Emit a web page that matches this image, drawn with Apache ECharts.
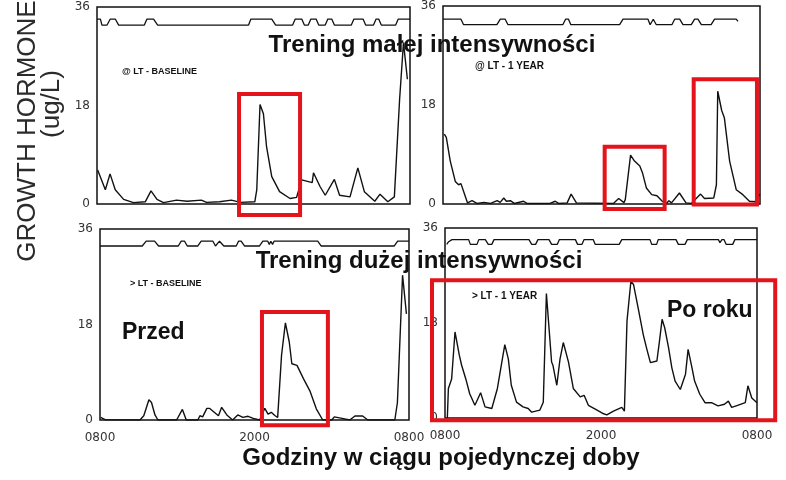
<!DOCTYPE html>
<html>
<head>
<meta charset="utf-8">
<script src="https://cdn.jsdelivr.net/npm/echarts@6/dist/echarts.min.js"></script>
<style>
  html, body { margin: 0; padding: 0; background: #fff; }
  #chart { width: 786px; height: 480px; }
</style>
</head>
<body>
<div id="chart"></div>
<script>
// godziny liczone od 08:00 (0 .. 24)
const xTickLabels = ['0800', '2000', '0800'];
const yTicks = [0, 18, 36];

// GH (ug/L) - lewy gorny: @ LT - BASELINE
const tlGH = [[0.05, 6.2], [0.64, 2.6], [1.0, 5.5], [1.4, 2.6], [2.04, 0.85], [2.8, 0.25], [3.7, 0.4], [4.14, 2.4],
  [4.6, 0.85], [5.1, 0.25], [6.1, 0.7], [6.9, 0.5], [8.0, 0.7], [8.4, 0.3], [9.4, 0.4], [10.3, 0.7], [11.0, 0.3],
  [12.1, 0.4], [12.25, 2.6], [12.5, 18.2], [12.76, 16.5], [13.0, 10.5], [13.4, 5], [14.0, 2.25], [14.8, 1.0],
  [15.3, 1.2], [15.7, 4.4], [16.5, 3.9], [16.6, 5.7], [17.1, 3.2], [17.5, 1.6], [18.2, 4.5], [18.6, 1.6], [19.4, 1.3],
  [20.0, 6.6], [20.5, 2.25], [21.3, 0.5], [21.7, 1.8], [22.3, 0.4], [22.8, 1.3], [23.2, 19], [23.5, 29.5], [23.8, 22.8]];
// prawy gorny: @ LT - 1 YEAR
const trGH = [[0.1, 12.7], [0.25, 12.1], [0.55, 7.8], [0.93, 4.1], [1.18, 3.5], [1.36, 3.7], [1.6, 2.0], [1.86, 0.2],
  [2.2, 0.6], [2.57, 0.1], [3.1, 0.3], [3.6, 0.1], [4.1, 0.6], [4.33, 0.3], [4.6, 1.1], [4.8, 0.5], [5.1, 0.6],
  [5.4, 0.1], [6.1, 0.5], [6.35, 0.1], [8.1, 0.1], [8.5, 0.5], [8.75, 0.1], [9.4, 0.2], [9.7, 1.8], [10.1, 0.2],
  [12.9, 0.1], [13.3, 1.0], [13.7, 0.25], [13.8, 0.8], [14.2, 8.9], [14.5, 7.8], [14.9, 6.9], [15.1, 5.7], [15.4, 2.9],
  [15.8, 1.7], [16.2, 1.5], [16.6, 0.5], [16.9, 0.06], [17.1, 0.6], [17.3, 0.2], [17.9, 2.0], [18.4, 0.2], [18.8, 0.1],
  [19.5, 1.8], [19.8, 1.0], [20.5, 1.1], [20.7, 3.5], [20.8, 20.5], [21.1, 17], [21.3, 15.7], [21.7, 7.8], [22.2, 2.6],
  [22.7, 1.7], [23.2, 0.5], [23.6, 0.4], [24.0, 1.8]];
// lewy dolny: > LT - BASELINE
const blGH = [[0.05, 0.5], [0.4, 0.06], [3.1, 0], [3.4, 0.8], [3.8, 3.8], [4.0, 3.3], [4.27, 0.95], [4.5, 0],
  [5.95, 0], [6.4, 2.0], [6.7, 0], [7.6, 0], [7.76, 0.8], [7.97, 0.6], [8.3, 2.2], [8.5, 2.2], [9.2, 0.8], [9.45, 2.4],
  [9.85, 0.95], [10.3, 0], [10.7, 0.95], [11.1, 0.5], [11.5, 0.7], [11.9, 0.3], [12.4, 0], [12.8, 2.2], [13.05, 1.1],
  [13.3, 1.45], [13.6, 0.8], [13.8, 0.5], [14.1, 12.2], [14.4, 18.3], [14.7, 14.7], [14.9, 10.6], [15.3, 10.3],
  [15.8, 7.8], [16.3, 5.5], [16.8, 2.1], [17.3, 0], [18.0, 0], [18.2, 0.6], [18.8, 0.3], [19.4, 0], [19.8, 0.75],
  [20.4, 0.75], [20.8, 0], [22.9, 0], [23.1, 3.3], [23.5, 27.3], [23.8, 20]];
// prawy dolny: > LT - 1 YEAR
const brGH = [[0.18, 0], [0.26, 5.6], [0.51, 7.4], [0.77, 16.3], [1.1, 11.9], [1.28, 10], [1.4, 10.3], [1.6, 7.4],
  [1.9, 4.6], [2.3, 2.4], [2.74, 4.8], [3.08, 2.1], [3.6, 1.8], [4.03, 5.6], [4.6, 13.9], [4.87, 11.2], [5.1, 6.2],
  [5.5, 3.0], [6.0, 2.1], [6.4, 1.8], [6.67, 1.1], [7.3, 1.5], [7.56, 3.0], [7.8, 23.6], [8.2, 10.6], [8.3, 10],
  [8.6, 6.2], [8.85, 11.2], [9.1, 14.3], [9.5, 10.6], [9.87, 5.6], [10.4, 4.0], [10.7, 4.3], [11.03, 2.4], [11.7, 1.5],
  [12.2, 0.8], [12.45, 0.6], [12.96, 1.3], [13.6, 2.0], [13.8, 1.3], [14.0, 18.4], [14.3, 25.9], [14.5, 25.3],
  [14.9, 20.3], [15.25, 15.8], [15.5, 13.3], [15.8, 10.5], [16.3, 10.8], [16.5, 14.6], [16.7, 18.7], [16.9, 17.1],
  [17.2, 13.3], [17.45, 9.5], [17.7, 7.0], [18.1, 5.4], [18.5, 8.3], [18.7, 13.0], [19.0, 9.5], [19.2, 7.0], [19.6, 4.5],
  [20.0, 2.9], [20.5, 2.9], [21.0, 2.3], [21.5, 2.6], [21.8, 3.2], [22.05, 2.0], [22.4, 2.3], [23.1, 2.9], [23.3, 6.1],
  [23.6, 3.8], [24.0, 2.9]];

// slad aktywnosci u gory kazdego panelu
const tlMarker = [[0, 33.8], [0.26, 33.8], [0.38, 32.7], [0.77, 32.7], [1.02, 33.8], [1.4, 33.8], [1.66, 32.7],
  [3.63, 32.7], [3.83, 33.8], [4.34, 33.8], [4.65, 32.7], [11.62, 32.7], [11.8, 33.8], [13.4, 33.8], [13.7, 32.7],
  [15.0, 32.7], [15.2, 33.8], [15.7, 33.8], [15.9, 32.7], [16.2, 32.7], [16.4, 33.8], [16.8, 33.8], [17.0, 32.7],
  [17.5, 32.7], [17.7, 33.8], [18.0, 33.8], [18.2, 32.7], [19.5, 32.7], [19.7, 33.8], [20.4, 33.8], [20.6, 32.7],
  [21.2, 32.7], [21.4, 33.8], [21.6, 33.8], [21.8, 32.7], [22.9, 32.7], [23.1, 33.8], [24, 33.8]];
const trMarker = [[0, 33.6], [1.36, 33.6], [1.56, 32.6], [4.08, 32.6], [4.34, 33.6], [4.71, 33.6], [4.92, 32.6],
  [9.07, 32.6], [9.28, 33.6], [9.5, 33.6], [9.68, 32.6], [13.37, 32.6], [13.63, 33.6], [15.52, 33.6], [15.68, 32.6],
  [15.78, 32.6], [15.92, 33.6], [15.98, 33.6], [16.15, 32.6], [17.33, 32.6], [17.54, 33.6], [17.92, 33.6],
  [18.17, 32.6], [18.8, 32.6], [19.05, 33.6], [19.3, 33.6], [19.56, 32.6], [20.3, 32.6], [20.56, 33.6], [22.2, 33.6],
  [22.33, 33.2]];
const blMarker = [[0, 32.8], [3.28, 32.8], [3.59, 33.7], [4.24, 33.7], [4.55, 32.8], [6.08, 32.8], [6.31, 33.7],
  [6.57, 33.7], [6.78, 32.8], [7.6, 32.8], [7.86, 33.7], [8.77, 33.7], [8.97, 32.8], [9.08, 32.8], [9.28, 33.7],
  [9.41, 33.7], [9.62, 32.8], [10.58, 32.8], [10.76, 33.7], [10.96, 33.7], [11.22, 32.8], [12.39, 32.8],
  [12.65, 33.7], [13.03, 33.7], [13.15, 33.1], [13.27, 33.7], [13.4, 33.1], [13.52, 33.7], [16.91, 33.7],
  [17.17, 32.8], [22.86, 32.8], [23.12, 33.7], [24, 33.7]];
const brMarker = [[0.13, 32.9], [0.28, 33.4], [0.54, 33.8], [1.82, 33.8], [1.95, 32.9], [2.46, 32.9], [2.6, 33.8],
  [3.1, 33.8], [3.33, 32.9], [3.6, 32.9], [3.77, 33.8], [6.46, 33.8], [6.67, 32.9], [6.97, 32.9], [7.15, 33.8],
  [8.0, 33.8], [8.2, 32.9], [8.64, 32.9], [8.8, 33.8], [10.03, 33.8], [10.2, 32.9], [10.54, 32.9], [10.7, 33.8],
  [11.4, 33.8], [11.55, 32.9], [13.4, 32.9], [13.6, 33.8], [15.77, 33.8], [15.9, 32.9], [16.28, 32.9], [16.4, 33.8],
  [17.77, 33.8], [17.95, 32.9], [18.46, 32.9], [18.64, 33.8], [21.03, 33.8], [21.15, 33.2], [21.3, 33.8],
  [21.46, 33.8], [21.62, 32.9], [22.13, 32.9], [22.3, 33.8], [24, 33.8]];

// czerwone ramki: [od godz., do godz., dol, gora]
const tlBoxes = [[10.89, 15.57, -2.0, 20.1]];
const trBoxes = [[12.24, 16.78, -0.9, 10.4], [18.98, 23.77, -0.1, 22.7]];
const blBoxes = [[12.58, 17.7, -1.0, 20.35]];
const brBoxes = [[-1.0, 25.4, -0.44, 26.1]];

const panels = [
  { grid: { left: 97, right: 376, top: 7, height: 197 }, gh: tlGH, marker: tlMarker, boxes: tlBoxes, xLabels: false },
  { grid: { left: 443, right: 26, top: 6, height: 198 }, gh: trGH, marker: trMarker, boxes: trBoxes, xLabels: false },
  { grid: { left: 100, right: 377, top: 229, height: 191 }, gh: blGH, marker: blMarker, boxes: blBoxes, xLabels: true },
  { grid: { left: 445, right: 29, top: 228, height: 190 }, gh: brGH, marker: brMarker, boxes: brBoxes, xLabels: true }
];

const ink = '#111';
const red = '#e3141c';
const tickFont = { fontFamily: 'DejaVu Sans', fontSize: 12, color: '#333' };

function renderBox (params, api) {
  const a = api.coord([api.value(0), api.value(3)]);
  const b = api.coord([api.value(1), api.value(2)]);
  return {
    type: 'rect',
    shape: { x: a[0], y: a[1], width: b[0] - a[0], height: b[1] - a[1] },
    style: { fill: null, stroke: red, lineWidth: 4 }
  };
}

function text (str, x, y, o = {}) {
  return {
    type: 'text', x, y, z: 100, rotation: o.rotation || 0,
    style: {
      text: str, fill: o.color || ink,
      fontSize: o.size || 24, fontWeight: o.weight || 'bold',
      fontFamily: o.family || 'Liberation Sans',
      textAlign: o.align || 'left', align: o.align || 'left',
      textVerticalAlign: 'middle', verticalAlign: 'middle'
    }
  };
}

const chart = echarts.init(document.getElementById('chart'), null, { renderer: 'canvas' });
const series = [];
panels.forEach((p, i) => {
  series.push({
    type: 'line', xAxisIndex: i, yAxisIndex: i, data: p.gh, symbol: 'none',
    lineStyle: { color: ink, width: 1.4 }, z: 3
  });
  series.push({
    type: 'line', xAxisIndex: i, yAxisIndex: i, data: p.marker, symbol: 'none',
    lineStyle: { color: ink, width: 1.3 }, z: 3
  });
  series.push({
    type: 'custom', xAxisIndex: i, yAxisIndex: i, data: p.boxes, renderItem: renderBox,
    clip: false, z: 10, silent: true
  });
});

chart.setOption({
  backgroundColor: '#fff',
  animation: false,
  grid: panels.map(p => Object.assign({ show: true, borderColor: ink, borderWidth: 1.5 }, p.grid)),
  xAxis: panels.map((p, i) => ({
    type: 'value', gridIndex: i, min: 0, max: 24, interval: 12,
    axisLine: { show: false }, axisTick: { show: false }, splitLine: { show: false },
    axisLabel: Object.assign({
      show: p.xLabels, margin: 12,
      formatter: v => xTickLabels[Math.round(v / 12)]
    }, tickFont)
  })),
  yAxis: panels.map((p, i) => ({
    type: 'value', gridIndex: i, min: yTicks[0], max: yTicks[2], interval: yTicks[1] - yTicks[0],
    axisLine: { show: false }, axisTick: { show: false }, splitLine: { show: false },
    axisLabel: Object.assign({ margin: 7 }, tickFont)
  })),
  series,
  graphic: [
    text('GROWTH HORMONE', 28, 131, { size: 26, weight: 'normal', color: '#2b2b2b', align: 'center', rotation: Math.PI / 2 }),
    text('(ug/L)', 52, 104, { size: 26, weight: 'normal', color: '#2b2b2b', align: 'center', rotation: Math.PI / 2 }),
    text('Trening małej intensywności', 432, 45, { align: 'center' }),
    text('Trening dużej intensywności', 419, 261, { align: 'center' }),
    text('Przed', 122, 333, { size: 23 }),
    text('Po roku', 667, 311, { size: 23 }),
    text('Godziny w ciągu pojedynczej doby', 441, 458, { align: 'center' }),
    text('@ LT - BASELINE', 122, 72, { size: 9 }),
    text('@ LT - 1 YEAR', 475, 66, { size: 10 }),
    text('> LT - BASELINE', 130, 284, { size: 9 }),
    text('> LT - 1 YEAR', 472, 296, { size: 10 })
  ]
});
</script>
</body>
</html>
